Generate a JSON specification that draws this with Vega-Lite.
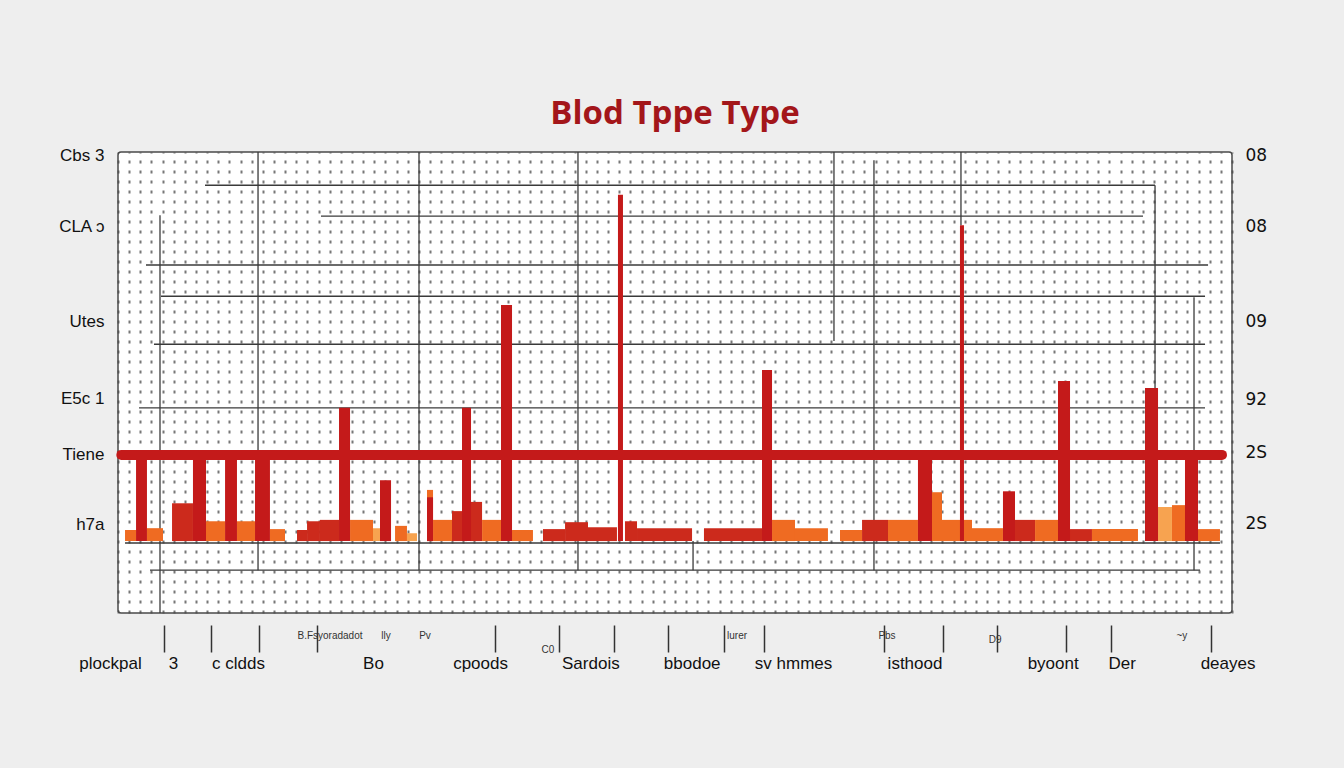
{
  "$schema": "https://vega.github.io/schema/vega-lite/v6.json",
  "width": 1114,
  "height": 461,
  "autosize": {"type": "none"},
  "padding": {"left": 118, "top": 152, "right": 112, "bottom": 155},
  "background": "#eeeeee",
  "view": {"fill": "#ffffff", "stroke": "#4a4a4a", "strokeWidth": 1.5, "cornerRadius": 3},
  "title": {"text": "Blod Tppe Type", "font": "Open Sans", "fontSize": 33, "fontWeight": "bold", "color": "#a3161a", "anchor": "middle", "offset": 15},
  "config": {
    "axis": {"labelFont": "Liberation Sans", "labelColor": "#111111", "labelFontSize": 17, "title": null}
  },
  "resolve": {"axis": {"x": "independent", "y": "independent"}},
  "layer": [
    {
      "data": {"values": [
        {"x1": 7.81, "x2": 93.09, "y": 77.2},
        {"x1": 18.22, "x2": 92.01, "y": 70.5},
        {"x1": 2.51, "x2": 97.85, "y": 59.9},
        {"x1": 3.86, "x2": 97.58, "y": 53.1},
        {"x1": 3.23, "x2": 97.58, "y": 42.7},
        {"x1": 1.89, "x2": 97.58, "y": 28.9},
        {"x1": 2.87, "x2": 97.13, "y": -6.3},
        {"x1": 0.63, "x2": 98.92, "y": -0.4}
      ]},
      "mark": {"type": "rule", "color": "#3a3a3a", "strokeWidth": 1.4},
      "encoding": {
        "x": {"field": "x1", "type": "quantitative", "scale": {"domain": [0, 100], "nice": false, "zero": false},
          "axis": {"orient": "top", "grid": true, "tickCount": 100, "labels": false, "ticks": false, "domain": false, "gridColor": "#4a4a4a", "gridWidth": 2, "gridDash": [3, 7], "gridOpacity": 0.75}},
        "x2": {"field": "x2"},
        "y": {"field": "y", "type": "quantitative", "scale": {"domain": [-15.6, 84.4], "nice": false, "zero": false}, "axis": null}
      }
    },
    {
      "data": {"values": [
        {"x": 3.77, "y1": 70.7, "y2": -15.6},
        {"x": 12.57, "y1": 84.4, "y2": -6.3},
        {"x": 27.02, "y1": 84.4, "y2": -6.3},
        {"x": 41.29, "y1": 84.4, "y2": -6.3},
        {"x": 64.27, "y1": 84.4, "y2": 43.4},
        {"x": 67.86, "y1": 82.6, "y2": -6.3},
        {"x": 75.67, "y1": 84.4, "y2": 68.5},
        {"x": 93.09, "y1": 77.2, "y2": 18.7},
        {"x": 96.59, "y1": 52.9, "y2": -6.3},
        {"x": 51.62, "y1": 0, "y2": -6.3}
      ]},
      "mark": {"type": "rule", "color": "#3a3a3a", "strokeWidth": 1.3},
      "encoding": {
        "x": {"field": "x", "type": "quantitative", "scale": {"domain": [0, 100], "nice": false, "zero": false},
          "axis": {"orient": "bottom", "values": [4.13, 8.35, 12.66, 17.86, 33.84, 39.59, 44.52, 49.37, 54.4, 57.99, 68.76, 74.06, 78.9, 85.1, 89.14, 98.11], "labels": false, "domain": false, "grid": false, "ticks": true, "tickSize": 27, "tickColor": "#333333", "tickWidth": 1.5, "offset": 12}},
        "y": {"field": "y1", "type": "quantitative", "scale": {"domain": [-15.6, 84.4], "nice": false, "zero": false},
          "axis": {"orient": "right", "values": [83.7, 68.3, 47.7, 30.8, 19.3, 3.9], "labelExpr": "datum.value == 83.7 ? '08' : datum.value == 68.3 ? '08' : datum.value == 47.7 ? '09' : datum.value == 30.8 ? '92' : datum.value == 19.3 ? '2S' : '2S'", "ticks": false, "domain": false, "grid": false, "labelPadding": 13, "labelFont": "DejaVu Sans", "labelFontSize": 17}},
        "y2": {"field": "y2"}
      }
    },
    {
      "data": {"values": [
        {"x1": 0.63, "x2": 1.62, "top": 2.4, "tone": "orange"},
        {"x1": 2.60, "x2": 4.04, "top": 2.8, "tone": "orange"},
        {"x1": 4.85, "x2": 6.73, "top": 8.2, "tone": "red"},
        {"x1": 7.90, "x2": 9.61, "top": 4.3, "tone": "orange"},
        {"x1": 10.68, "x2": 12.30, "top": 4.3, "tone": "orange"},
        {"x1": 13.64, "x2": 14.99, "top": 2.6, "tone": "orange"},
        {"x1": 16.07, "x2": 16.97, "top": 2.4, "tone": "red"},
        {"x1": 16.97, "x2": 18.13, "top": 4.3, "tone": "red"},
        {"x1": 18.13, "x2": 19.84, "top": 4.6, "tone": "red"},
        {"x1": 20.83, "x2": 22.89, "top": 4.6, "tone": "orange"},
        {"x1": 22.89, "x2": 23.52, "top": 2.8, "tone": "light"},
        {"x1": 24.87, "x2": 25.94, "top": 3.3, "tone": "orange"},
        {"x1": 25.94, "x2": 26.84, "top": 1.7, "tone": "light"},
        {"x1": 27.74, "x2": 28.28, "top": 11.1, "tone": "orange"},
        {"x1": 28.28, "x2": 29.98, "top": 4.6, "tone": "orange"},
        {"x1": 29.98, "x2": 31.33, "top": 6.5, "tone": "red"},
        {"x1": 31.60, "x2": 32.68, "top": 8.5, "tone": "red"},
        {"x1": 32.68, "x2": 34.38, "top": 4.6, "tone": "orange"},
        {"x1": 35.37, "x2": 37.25, "top": 2.4, "tone": "orange"},
        {"x1": 38.15, "x2": 40.13, "top": 2.6, "tone": "red"},
        {"x1": 40.13, "x2": 42.19, "top": 4.1, "tone": "red"},
        {"x1": 42.19, "x2": 44.79, "top": 3.0, "tone": "red"},
        {"x1": 45.51, "x2": 46.59, "top": 4.3, "tone": "red"},
        {"x1": 46.59, "x2": 51.53, "top": 2.8, "tone": "red"},
        {"x1": 52.60, "x2": 57.81, "top": 2.8, "tone": "red"},
        {"x1": 58.71, "x2": 60.77, "top": 4.6, "tone": "orange"},
        {"x1": 60.77, "x2": 63.73, "top": 2.8, "tone": "orange"},
        {"x1": 64.81, "x2": 66.79, "top": 2.4, "tone": "orange"},
        {"x1": 66.79, "x2": 69.12, "top": 4.6, "tone": "red"},
        {"x1": 69.12, "x2": 71.81, "top": 4.6, "tone": "orange"},
        {"x1": 73.07, "x2": 73.97, "top": 10.6, "tone": "orange"},
        {"x1": 73.97, "x2": 76.66, "top": 4.6, "tone": "orange"},
        {"x1": 76.66, "x2": 79.44, "top": 2.8, "tone": "orange"},
        {"x1": 80.52, "x2": 82.32, "top": 4.6, "tone": "red"},
        {"x1": 82.32, "x2": 84.38, "top": 4.6, "tone": "orange"},
        {"x1": 85.46, "x2": 87.43, "top": 2.6, "tone": "red"},
        {"x1": 87.43, "x2": 91.56, "top": 2.6, "tone": "orange"},
        {"x1": 93.36, "x2": 94.61, "top": 7.4, "tone": "light"},
        {"x1": 94.61, "x2": 95.78, "top": 7.8, "tone": "orange"},
        {"x1": 96.95, "x2": 98.92, "top": 2.6, "tone": "orange"}
      ]},
      "mark": {"type": "rect"},
      "encoding": {
        "x": {"field": "x1", "type": "quantitative", "scale": {"domain": [0, 100], "nice": false, "zero": false},
          "axis": {"orient": "bottom", "values": [0, 4.94, 10.77, 22.89, 32.5, 42.4, 51.5, 60.6, 71.5, 83.9, 90.1, 99.6], "labelExpr": "datum.value == 0 ? 'plockpal' : datum.value == 4.94 ? '3' : datum.value == 10.77 ? 'c cldds' : datum.value == 22.89 ? 'Bo' : datum.value == 32.5 ? 'cpoods' : datum.value == 42.4 ? 'Sardois' : datum.value == 51.5 ? 'bbodoe' : datum.value == 60.6 ? 'sv hmmes' : datum.value == 71.5 ? 'isthood' : datum.value == 83.9 ? 'byoont' : datum.value == 90.1 ? 'Der' : 'deayes'", "labelOffset": {"condition": {"test": "datum.value == 0", "value": -8}, "value": 0}, "ticks": false, "tickSize": 0, "domain": false, "grid": false, "offset": 12, "labelPadding": 30, "labelFlush": false, "labelOverlap": false}},
        "x2": {"field": "x2"},
        "y": {"field": "top", "type": "quantitative", "scale": {"domain": [-15.6, 84.4], "nice": false, "zero": false},
          "axis": {"orient": "left", "values": [83.7, 68.3, 47.7, 31, 18.7, 3.7], "labelExpr": "datum.value == 83.7 ? 'Cbs 3' : datum.value == 68.3 ? 'CLA ɔ' : datum.value == 47.7 ? 'Utes' : datum.value == 31 ? 'E5c 1' : datum.value == 18.7 ? 'Tiene' : 'h7a'", "ticks": false, "domain": false, "grid": false, "labelPadding": 14}},
        "y2": {"datum": 0},
        "color": {"field": "tone", "type": "nominal", "scale": {"domain": ["red", "orange", "light"], "range": ["#cc2a1c", "#ef6b22", "#f7a350"]}, "legend": null}
      }
    },
    {
      "data": {"values": [
        {"x1": 1.62, "x2": 2.60, "top": 18.7},
        {"x1": 6.73, "x2": 7.90, "top": 18.7},
        {"x1": 9.61, "x2": 10.68, "top": 18.7},
        {"x1": 12.30, "x2": 13.64, "top": 18.7},
        {"x1": 19.84, "x2": 20.83, "top": 28.9},
        {"x1": 23.52, "x2": 24.51, "top": 13.2},
        {"x1": 27.74, "x2": 28.28, "top": 9.5},
        {"x1": 30.88, "x2": 31.69, "top": 28.9},
        {"x1": 34.38, "x2": 35.37, "top": 51.2},
        {"x1": 44.88, "x2": 45.33, "top": 75.1},
        {"x1": 57.81, "x2": 58.71, "top": 37.1},
        {"x1": 71.81, "x2": 73.07, "top": 18.7},
        {"x1": 79.44, "x2": 80.52, "top": 10.8},
        {"x1": 84.38, "x2": 85.46, "top": 34.7},
        {"x1": 92.19, "x2": 93.36, "top": 33.2},
        {"x1": 95.78, "x2": 96.95, "top": 18.7},
        {"x1": 75.58, "x2": 75.94, "top": 68.5}
      ]},
      "mark": {"type": "rect", "color": "#c41a1a"},
      "encoding": {
        "x": {"field": "x1", "type": "quantitative", "scale": {"domain": [0, 100], "nice": false, "zero": false}, "axis": null},
        "x2": {"field": "x2"},
        "y": {"field": "top", "type": "quantitative", "scale": {"domain": [-15.6, 84.4], "nice": false, "zero": false}, "axis": null},
        "y2": {"datum": 0}
      }
    },
    {
      "data": {"values": [{"x1": 0.3, "x2": 99.1, "y": 18.7}]},
      "mark": {"type": "rule", "color": "#c41a1a", "strokeWidth": 10, "strokeCap": "round"},
      "encoding": {
        "x": {"field": "x1", "type": "quantitative", "scale": {"domain": [0, 100], "nice": false, "zero": false}, "axis": null},
        "x2": {"field": "x2"},
        "y": {"field": "y", "type": "quantitative", "scale": {"domain": [-15.6, 84.4], "nice": false, "zero": false}, "axis": null}
      }
    },
    {
      "data": {"values": [
        {"x": 19.03, "y": -20.6, "t": "B.Fsyoradadot"},
        {"x": 24.06, "y": -20.6, "t": "lly"},
        {"x": 27.56, "y": -20.6, "t": "Pv"},
        {"x": 38.6, "y": -23.6, "t": "C0"},
        {"x": 55.57, "y": -20.6, "t": "lurer"},
        {"x": 69.03, "y": -20.6, "t": "Pbs"},
        {"x": 78.73, "y": -21.5, "t": "D9"},
        {"x": 95.5, "y": -20.6, "t": "~y"}
      ]},
      "mark": {"type": "text", "font": "Liberation Sans", "fontSize": 10, "color": "#333333"},
      "encoding": {
        "x": {"field": "x", "type": "quantitative", "scale": {"domain": [0, 100], "nice": false, "zero": false}, "axis": null},
        "y": {"field": "y", "type": "quantitative", "scale": {"domain": [-15.6, 84.4], "nice": false, "zero": false}, "axis": null},
        "text": {"field": "t"}
      }
    }
  ]
}
